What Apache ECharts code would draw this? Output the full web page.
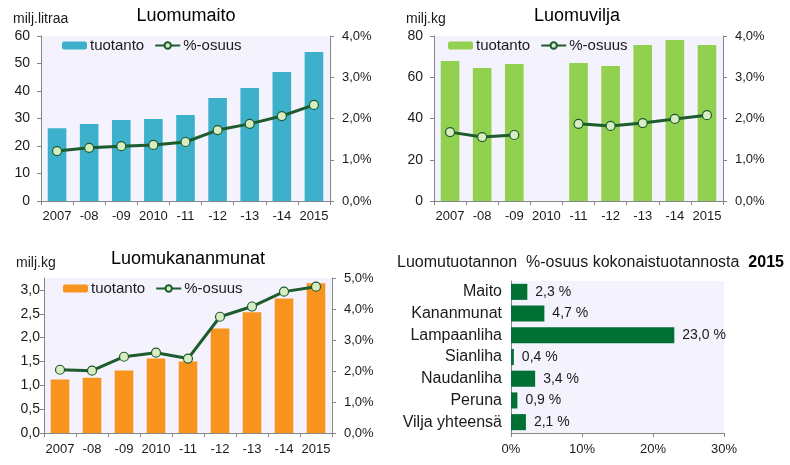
<!DOCTYPE html>
<html>
<head>
<meta charset="utf-8">
<script src="https://cdn.jsdelivr.net/npm/echarts@6/dist/echarts.min.js"></script>
<style>
html,body{margin:0;padding:0;background:#fff;}
#c{width:790px;height:465px;}
</style>
</head>
<body>
<div id="c"></div>
<script>
const years = ['2007','-08','-09','2010','-11','-12','-13','-14','2015'];
const milkProd = [26.5, 28.0, 29.5, 29.8, 31.3, 37.5, 41.1, 46.9, 54.2];
const milkShare = [1.21, 1.29, 1.33, 1.36, 1.43, 1.72, 1.87, 2.06, 2.33];
const grainProd = [67.9, 64.5, 66.4, null, 66.9, 65.5, 75.6, 78.1, 75.6];
const grainShare = [1.67, 1.55, 1.60, null, 1.87, 1.82, 1.89, 1.99, 2.08];
const eggProd = [1.12, 1.16, 1.31, 1.56, 1.50, 2.19, 2.53, 2.82, 3.14];
const eggShare = [2.04, 2.01, 2.46, 2.59, 2.40, 3.75, 4.08, 4.56, 4.72];
const shareCats = ['Maito','Kananmunat','Lampaanliha','Sianliha','Naudanliha','Peruna','Vilja yhteensä'];
const shareVals = [2.3, 4.7, 23.0, 0.4, 3.4, 0.9, 2.1];

const FONT = "'Liberation Sans', Arial, sans-serif";
const AX = '#868686';
const TXT = '#1a1a1a';
const BG = '#F4F2FD';
const LINE = '#1D5C2D';
const MARK = '#D8EDC2';

const chart = echarts.init(document.getElementById('c'), null, {renderer:'canvas'});

function comma(v, d){ return v.toFixed(d).replace('.', ','); }

const grids = [
  {left:41, top:36, width:289, height:165},
  {left:434, top:36, width:289, height:165},
  {left:44, top:278, width:288, height:155},
  {left:511, top:281, width:213, height:152}
].map(g => Object.assign({show:true, backgroundColor:BG, borderWidth:0, containLabel:false}, g));

function catX(gi, margin){
  return {
    type:'category', gridIndex:gi, data:years, boundaryGap:true,
    axisLine:{show:true, lineStyle:{color:AX, width:1}},
    axisTick:{show:true, length:4, lineStyle:{color:AX}, alignWithLabel:false},
    axisLabel:{color:TXT, fontSize:13, fontFamily:FONT, margin:margin, interval:0},
    splitLine:{show:false}
  };
}
function valY(gi, max, interval, pos, fmt, margin, fs){
  return {
    type:'value', gridIndex:gi, min:0, max:max, interval:interval, position:pos,
    axisLine:{show:true, lineStyle:{color:AX, width:1}},
    axisTick:{show:true, length:4, lineStyle:{color:AX}},
    axisLabel:{color:TXT, fontSize:fs || 13, fontFamily:FONT, margin:margin, formatter:fmt, showMaxLabel: true},
    splitLine:{show:false}
  };
}

const xAxes = [catX(0, 9), catX(1, 9), catX(2, 10), {
  type:'value', gridIndex:3, min:0, max:30, interval:10,
  axisLine:{show:true, lineStyle:{color:AX}},
  axisTick:{show:true, length:4, lineStyle:{color:AX}},
  axisLabel:{color:TXT, fontSize:13, fontFamily:FONT, margin:10, formatter: v => v + '%'},
  splitLine:{show:false}
}];

const pctFmt = v => comma(v,1) + '%';
const eggLeft = valY(2, 3.25, 0.5, 'left', v => comma(v,1), 4, 14);
eggLeft.axisLabel.showMaxLabel = false;

const yAxes = [
  valY(0, 60, 10, 'left', v => String(v), 11, 14),
  valY(0, 4, 1, 'right', pctFmt, 12, 13),
  valY(1, 80, 20, 'left', v => String(v), 11, 14),
  valY(1, 4, 1, 'right', pctFmt, 12, 13),
  eggLeft,
  valY(2, 5, 1, 'right', pctFmt, 12, 13),
  {
    type:'category', gridIndex:3, data:shareCats, inverse:true,
    axisLine:{show:true, lineStyle:{color:AX}},
    axisTick:{show:false},
    axisLabel:{color:TXT, fontSize:16, fontFamily:FONT, margin:9},
    splitLine:{show:false}
  }
];

function barS(name, xi, yi, data, color){
  return {name:name, type:'bar', xAxisIndex:xi, yAxisIndex:yi, data:data, barWidth:'58%',
    itemStyle:{color:color}, z:2};
}
function lineS(name, xi, yi, data){
  return {name:name, type:'line', xAxisIndex:xi, yAxisIndex:yi, data:data,
    symbol:'circle', symbolSize:9, connectNulls:false,
    lineStyle:{color:LINE, width:3},
    itemStyle:{color:MARK, borderColor:LINE, borderWidth:1.2}, z:3};
}

const series = [
  barS('tuotanto#0', 0, 0, milkProd, '#3DB1CB'),
  lineS('%-osuus#0', 0, 1, milkShare),
  barS('tuotanto#1', 1, 2, grainProd, '#92D050'),
  lineS('%-osuus#1', 1, 3, grainShare),
  barS('tuotanto#2', 2, 4, eggProd, '#F7941E'),
  lineS('%-osuus#2', 2, 5, eggShare),
  {name:'share', type:'bar', xAxisIndex:3, yAxisIndex:6, data:shareVals, barWidth:'74%',
    itemStyle:{color:'#007033'},
    label:{show:true, position:'right', distance:8, color:TXT, fontSize:14, fontFamily:FONT,
      formatter: p => comma(p.value,1) + ' %'}}
];

function legend(i, left, top){
  return {
    left:left, top:top, itemWidth:25, itemHeight:8, itemGap:10, padding:0,
    data:['tuotanto#'+i, '%-osuus#'+i],
    formatter: n => n.split('#')[0],
    textStyle:{color:TXT, fontSize:15, fontFamily:FONT, padding:[0,0,0,-2]},
    selectedMode:false
  };
}

const titleStyle = {color:'#000', fontSize:18, fontFamily:FONT, fontWeight:'normal'};
const unitStyle = {color:TXT, fontSize:14, fontFamily:FONT, fontWeight:'normal'};

const option = {
  animation:false,
  backgroundColor:'#fff',
  textStyle:{fontFamily:FONT},
  title:[
    {text:'Luomumaito', left:186, top:7, textAlign:'center', textStyle:titleStyle, padding:0},
    {text:'Luomuvilja', left:577, top:7, textAlign:'center', textStyle:titleStyle, padding:0},
    {text:'Luomukananmunat', left:188, top:250, textAlign:'center', textStyle:titleStyle, padding:0},
    {text:'milj.litraa', left:13, top:12, textStyle:unitStyle, padding:0},
    {text:'milj.kg', left:406, top:12, textStyle:unitStyle, padding:0},
    {text:'milj.kg', left:16, top:256, textStyle:unitStyle, padding:0},
    {text:'{a|Luomutuotannon  %-osuus kokonaistuotannosta  }{b|2015}', left:397, top:255, padding:0,
      textStyle:{fontWeight:'normal', rich:{
        a:{color:TXT, fontSize:16, fontFamily:FONT, fontWeight:'normal'},
        b:{color:'#000', fontSize:16, fontFamily:FONT, fontWeight:'bold'}
      }}}
  ],
  legend:[legend(0, 62, 38), legend(1, 448, 38), legend(2, 63, 281)],
  grid:grids,
  xAxis:xAxes,
  yAxis:yAxes,
  series:series
};
chart.setOption(option);
</script>
</body>
</html>
